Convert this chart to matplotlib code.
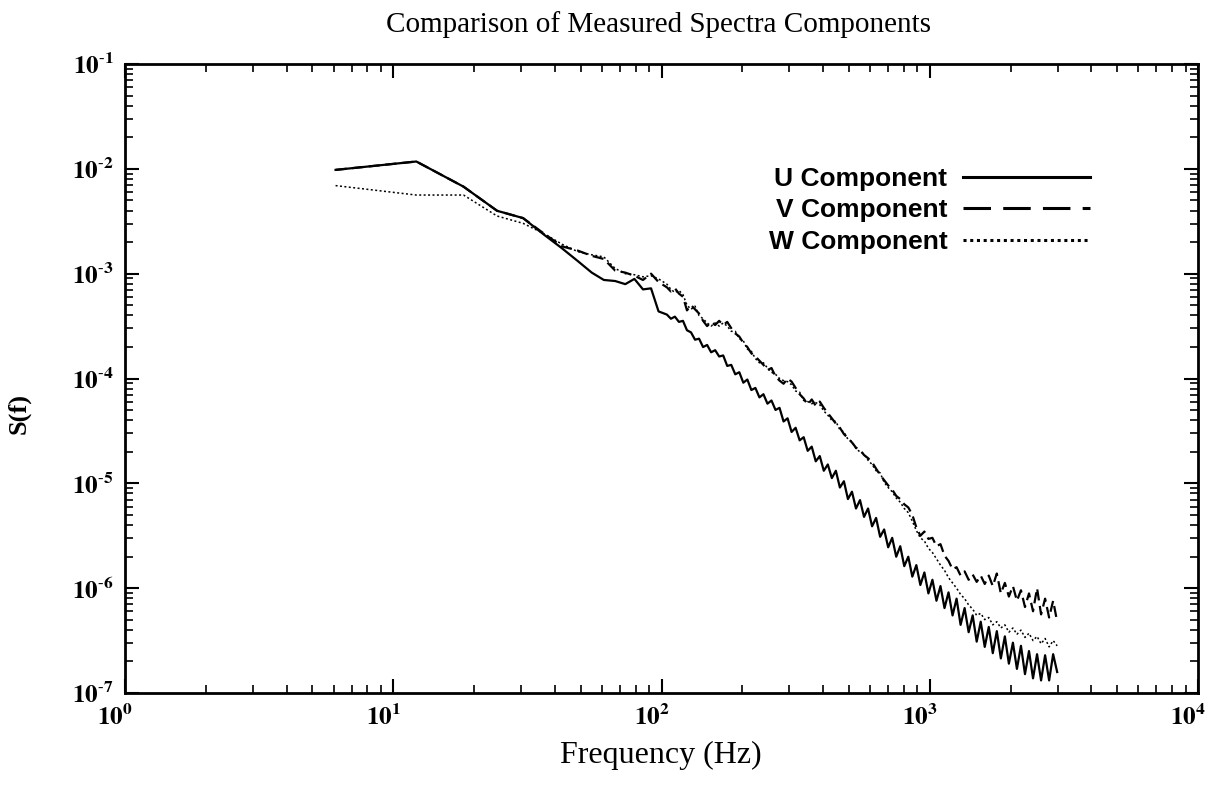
import numpy as np
import matplotlib.pyplot as plt
from matplotlib.lines import Line2D
from matplotlib.ticker import LogLocator, NullFormatter
from matplotlib.transforms import ScaledTranslation

plt.rcParams['mathtext.fontset'] = 'stix'
plt.rcParams['font.family'] = ['Liberation Serif', 'DejaVu Serif']

# log10 of frequency (Hz), shared by the three spectra
log_f = [0.785, 1.086, 1.262, 1.387, 1.484, 1.563, 1.630, 1.688, 1.740, 1.785,
         1.827, 1.865, 1.899, 1.931, 1.961, 1.989,
         2.020, 2.035, 2.050, 2.065, 2.080, 2.095, 2.110, 2.125, 2.140, 2.155,
         2.170, 2.185, 2.200, 2.215, 2.230, 2.245, 2.260, 2.275, 2.290, 2.305,
         2.320, 2.335, 2.350, 2.365, 2.380, 2.395, 2.410, 2.425, 2.440, 2.455,
         2.470, 2.485, 2.500, 2.515, 2.530, 2.545, 2.560, 2.575, 2.590, 2.605,
         2.620, 2.635, 2.650, 2.665, 2.680, 2.695, 2.710, 2.725, 2.740, 2.755,
         2.770, 2.785, 2.800, 2.815, 2.830, 2.845, 2.860, 2.875, 2.890, 2.905,
         2.920, 2.935, 2.950, 2.965, 2.980, 2.995, 3.010, 3.025, 3.040, 3.055,
         3.070, 3.085, 3.100, 3.115, 3.130, 3.145, 3.160, 3.175, 3.190, 3.205,
         3.220, 3.235, 3.250, 3.265, 3.280, 3.295, 3.310, 3.325, 3.340, 3.355,
         3.370, 3.385, 3.400, 3.415, 3.430, 3.445, 3.460, 3.475]

# log10 of S(f)
log_u = [-2.01, -1.93, -2.17, -2.40, -2.47, -2.63, -2.76, -2.88, -2.99, -3.06,
         -3.07, -3.10, -3.05, -3.15, -3.14, -3.36,
         -3.39, -3.43, -3.41, -3.46, -3.45, -3.54, -3.56, -3.63, -3.62, -3.70,
         -3.68, -3.75, -3.73, -3.79, -3.78, -3.88, -3.87, -3.96, -3.94, -4.04,
         -4.01, -4.11, -4.09, -4.18, -4.15, -4.24, -4.21, -4.30, -4.28, -4.41,
         -4.38, -4.51, -4.47, -4.59, -4.56, -4.69, -4.65, -4.79, -4.74, -4.88,
         -4.82, -4.95, -4.88, -5.04, -4.98, -5.15, -5.08, -5.24, -5.16, -5.32,
         -5.24, -5.41, -5.33, -5.51, -5.44, -5.61, -5.52, -5.70, -5.60, -5.79,
         -5.70, -5.89, -5.78, -5.97, -5.85, -6.05, -5.92, -6.12, -5.98, -6.19,
         -6.04, -6.26, -6.10, -6.35, -6.19, -6.42, -6.26, -6.51, -6.32, -6.56,
         -6.37, -6.62, -6.41, -6.67, -6.46, -6.72, -6.52, -6.77, -6.55, -6.82,
         -6.60, -6.86, -6.63, -6.88, -6.64, -6.88, -6.63, -6.80]

log_v = [-2.01, -1.93, -2.17, -2.40, -2.47, -2.62, -2.74, -2.78, -2.83, -2.86,
         -2.97, -2.99, -3.02, -3.06, -3.00, -3.08,
         -3.13, -3.17, -3.14, -3.19, -3.22, -3.35, -3.30, -3.34, -3.38, -3.45,
         -3.50, -3.46, -3.49, -3.45, -3.49, -3.46, -3.52, -3.57, -3.60, -3.66,
         -3.70, -3.76, -3.79, -3.83, -3.87, -3.92, -3.90, -3.98, -4.02, -4.05,
         -4.00, -4.03, -4.09, -4.15, -4.19, -4.25, -4.20, -4.26, -4.22, -4.28,
         -4.33, -4.38, -4.43, -4.47, -4.53, -4.57, -4.61, -4.66, -4.68, -4.73,
         -4.76, -4.80, -4.86, -4.92, -4.97, -5.02, -5.06, -5.12, -5.15, -5.20,
         -5.23, -5.30, -5.42, -5.50, -5.46, -5.53, -5.52, -5.60, -5.58, -5.69,
         -5.74, -5.82, -5.80, -5.88, -5.84, -5.92, -5.87, -5.94, -5.88, -5.96,
         -5.88, -5.98, -5.86, -6.05, -5.95, -6.08, -5.98, -6.12, -6.02, -6.18,
         -6.05, -6.22, -6.00, -6.25, -6.10, -6.28, -6.12, -6.32]

log_w = [-2.16, -2.25, -2.25, -2.45, -2.52, -2.62, -2.72, -2.79, -2.82, -2.84,
         -2.95, -3.00, -3.01, -3.03, -3.02, -3.05,
         -3.10, -3.15, -3.18, -3.16, -3.20, -3.30, -3.34, -3.31, -3.40, -3.43,
         -3.47, -3.50, -3.47, -3.50, -3.47, -3.50, -3.55, -3.55, -3.62, -3.64,
         -3.72, -3.74, -3.81, -3.85, -3.85, -3.90, -3.94, -3.96, -4.00, -4.02,
         -4.03, -4.06, -4.12, -4.13, -4.21, -4.22, -4.24, -4.23, -4.25, -4.31,
         -4.35, -4.40, -4.41, -4.49, -4.51, -4.58, -4.60, -4.67, -4.70, -4.72,
         -4.78, -4.82, -4.88, -4.90, -4.99, -5.04, -5.08, -5.14, -5.18, -5.24,
         -5.28, -5.36, -5.45, -5.52, -5.55, -5.62, -5.66, -5.72, -5.78, -5.83,
         -5.90, -5.95, -6.00, -6.06, -6.10, -6.16, -6.20, -6.26, -6.24, -6.30,
         -6.28, -6.35, -6.32, -6.38, -6.35, -6.42, -6.38, -6.44, -6.40, -6.47,
         -6.43, -6.50, -6.46, -6.53, -6.48, -6.56, -6.50, -6.55]

labels = ['U Component', 'V Component', 'W Component']
xticks = [1, 10, 100, 1000, 10000]
xtick_labels = [r'$\mathbf{10^{%d}}$' % p for p in [0, 1, 2, 3, 4]]
yticks = [1e-7, 1e-6, 1e-5, 1e-4, 1e-3, 1e-2, 1e-1]
ytick_labels = [r'$\mathbf{10^{\text{-}%d}}$' % p for p in [7, 6, 5, 4, 3, 2, 1]]

f = 10 ** np.array(log_f)
u = 10 ** np.array(log_u)
v = 10 ** np.array(log_v)
w = 10 ** np.array(log_w)

fig = plt.figure(figsize=(12.12, 7.93), dpi=100)
ax = fig.add_axes([125/1212, 1-693/793, 1073/1212, 629/793])

ax.plot(f, u, color='black', lw=1.6)
ax.plot(f, v, color='black', lw=1.6, ls=(0, (5, 2.5)))
ax.plot(f, w, color='black', lw=1.1, ls=(0, (1.3, 1.6)))

ax.set_xscale('log')
ax.set_yscale('log')
ax.set_xlim(1, 1e4)
ax.set_ylim(1e-7, 1e-1)
ax.set_xticks(xticks)
ax.set_xticklabels(xtick_labels)
ax.set_yticks(yticks)
ax.set_yticklabels(ytick_labels)
ax.xaxis.set_minor_locator(LogLocator(base=10, subs=range(2, 10), numticks=20))
ax.yaxis.set_minor_locator(LogLocator(base=10, subs=range(2, 10), numticks=20))
ax.xaxis.set_minor_formatter(NullFormatter())
ax.yaxis.set_minor_formatter(NullFormatter())
ax.tick_params(which='both', direction='in', top=True, right=True, labelsize=18)
ax.tick_params(which='major', length=10, width=1.5, pad=8)
ax.tick_params(which='minor', length=6, width=1.2)
for s in ax.spines.values():
    s.set_linewidth(2)

# tick labels sit a little left of their ticks in the reference
shift = ScaledTranslation(-10/100, 0, fig.dpi_scale_trans)
for lab in ax.get_xticklabels():
    lab.set_transform(lab.get_transform() + shift)

handles = [Line2D([], [], color='black', lw=2.2),
           Line2D([], [], color='black', lw=2.2, ls=(0, (9, 4))),
           Line2D([], [], color='black', lw=2.2, ls=(0, (1, 1.2)))]
ax.legend(handles, labels, loc='upper right',
          bbox_to_anchor=(1090/1212, 1-167/793), bbox_transform=fig.transFigure,
          frameon=False, markerfirst=False, handlelength=4.8, handletextpad=0.6,
          labelspacing=0.28, borderpad=0, borderaxespad=0,
          prop={'family': 'Liberation Sans', 'weight': 'bold', 'size': 19})

fig.text(658/1212, 1-25/793, 'Comparison of Measured Spectra Components',
         ha='center', va='center', fontsize=21)
fig.text(661/1212, 1-755/793, 'Frequency (Hz)', ha='center', va='center',
         fontsize=23)
fig.text(19/1212, 1-413/793, 'S(f)', ha='center', va='center', rotation=90,
         fontsize=19, fontweight='bold')

fig.savefig('out.png', dpi=100)
